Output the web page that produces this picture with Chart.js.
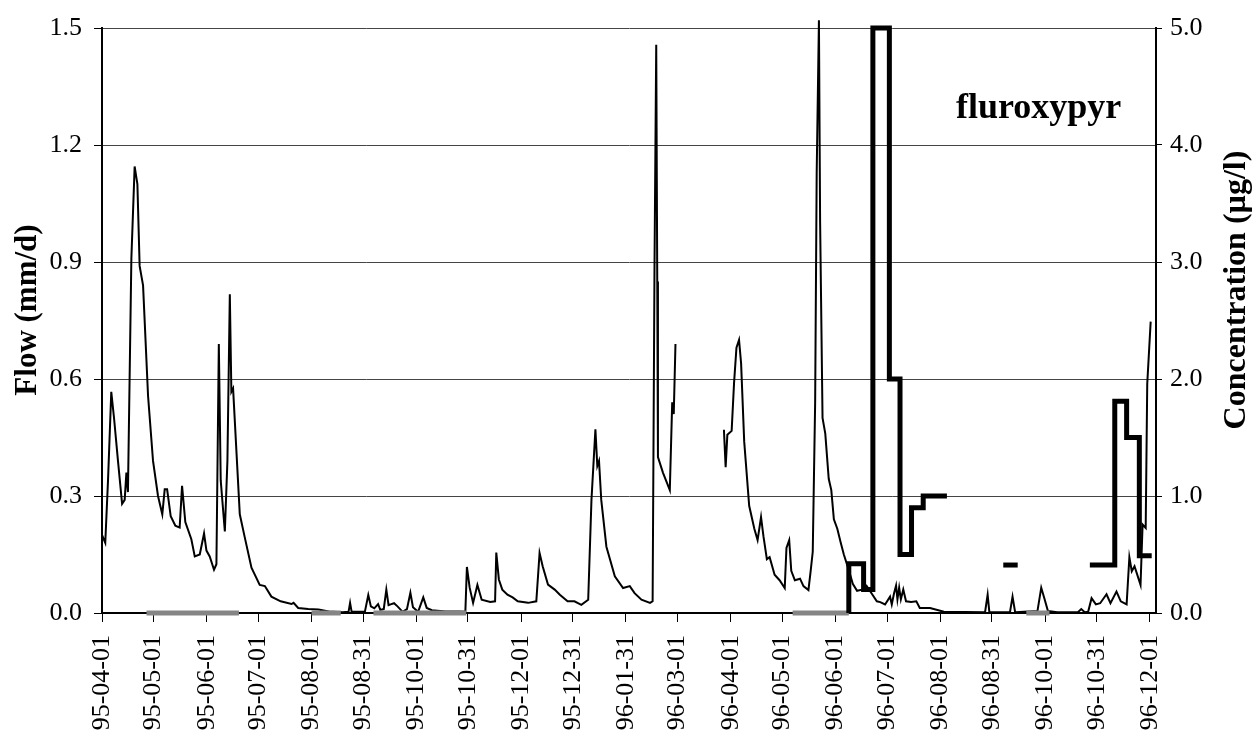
<!DOCTYPE html>
<html><head><meta charset="utf-8">
<script src="https://cdn.jsdelivr.net/npm/chart.js@4.4.0/dist/chart.umd.min.js"></script>
<style>html,body{margin:0;padding:0;background:#fff;}#wrap{width:1254px;height:735px;}</style>
</head><body><div id="wrap"><canvas id="c" width="1254" height="735"></canvas></div>
<script>
// x values are days since 95-04-01
const tickDays = [0,30,61,91,122,152,183,213,244,274,305,335,366,396,427,457,488,518,549,579,610];
const tickLabels = ['95-04-01','95-05-01','95-06-01','95-07-01','95-08-01','95-08-31','95-10-01','95-10-31','95-12-01','95-12-31','96-01-31','96-03-01','96-04-01','96-05-01','96-06-01','96-07-01','96-08-01','96-08-31','96-10-01','96-10-31','96-12-01'];
const flowTicks = [0,0.3,0.6,0.9,1.2,1.5];
const concTicks = [0,1,2,3,4,5];

const flowDays = [0,1.9,3.5,5.4,7,9.3,11.7,13.2,14.2,15.1,17.1,19,20.6,21.9,23.9,26.8,29.7,32.6,35.1,36.5,37.9,40,42.7,45.2,46.6,48.5,52,54,56.9,59.4,60.8,62.7,65.2,66.6,68,69.1,71.5,73,74.4,75.3,76.3,78.3,80.2,83.1,87,91.8,94.8,98.6,104,110.3,111.5,114.2,120,126,132,140,143.5,144.4,145.3,153,155,156.5,158.5,160.7,162,164,165.5,166.8,168,170,172,175,177.5,179.5,181,184,187,189,192,200,208,211.5,212.4,214,216,218.5,221,226,228.8,229.5,231,233,236,239,242,248,252.8,254.7,256.5,259.6,263.5,266.5,271,275,279,283,284.9,287.2,288.3,289.3,290.6,293.6,298.5,303.3,307.2,310,314,319,320.5,321.6,322.6,323.2,323.6,326.5,330.5,331.9,332.8,333.8,348,362,363,364,366.5,367.9,369.3,370.8,372,373.8,376.7,379.7,381.6,383.6,385,387,388.6,391.5,394.4,397.4,398.4,400,401.2,403.3,406.3,408.3,411.2,412.5,413.7,415.1,416,417.3,418,419.4,421,423,424.5,426,428,430,431.8,434.7,437,439.5,442.4,445,448,451,453,455.8,458.7,459.7,461,462.2,463,464,465,466.4,468,471,474,476,482,490,514,515.5,516.5,528.5,530,531.5,544.5,546.7,548.5,550.6,556,568,570,572,574,576,578.5,581,584.7,587,590.5,593,596.4,598,599.4,601,604.5,605.7,607.5,608.4,610.4];
const flowValues = [0.20,0.18,0.34,0.567,0.50,0.39,0.28,0.29,0.36,0.31,0.91,1.145,1.10,0.89,0.84,0.557,0.39,0.30,0.253,0.317,0.317,0.248,0.224,0.219,0.326,0.233,0.189,0.145,0.15,0.204,0.16,0.145,0.111,0.125,0.69,0.34,0.209,0.39,0.817,0.567,0.576,0.41,0.253,0.194,0.116,0.072,0.069,0.042,0.03,0.023,0.026,0.013,0.01,0.009,0.004,0.002,0.003,0.026,0.003,0.003,0.046,0.017,0.012,0.023,0.008,0.01,0.06,0.02,0.022,0.025,0.017,0.003,0.01,0.052,0.015,0.003,0.04,0.013,0.007,0.004,0.004,0.003,0.118,0.065,0.026,0.072,0.034,0.028,0.03,0.155,0.086,0.06,0.047,0.04,0.03,0.026,0.03,0.154,0.12,0.073,0.06,0.047,0.03,0.03,0.021,0.034,0.29,0.471,0.377,0.39,0.29,0.17,0.094,0.064,0.069,0.051,0.034,0.026,0.03,0.895,1.457,0.85,0.40,0.36,0.315,0.54,0.51,0.69,null,0.47,0.374,0.457,0.467,0.59,0.68,0.70,0.64,0.44,0.275,0.216,0.187,0.246,0.197,0.138,0.143,0.098,0.084,0.064,0.167,0.187,0.108,0.084,0.088,0.069,0.059,0.108,0.157,0.54,1.13,1.52,1.0,0.50,0.46,0.344,0.315,0.24,0.216,0.18,0.15,0.11,0.075,0.057,0.06,0.07,0.05,0.03,0.028,0.022,0.042,0.022,0.05,0.07,0.035,0.065,0.035,0.06,0.03,0.028,0.03,0.013,0.013,0.003,0.002,0.047,0.002,0.002,0.042,0.002,0.005,0.065,0.038,0.005,0.002,0.002,0.01,0.002,0.003,0.038,0.022,0.025,0.048,0.025,0.055,0.03,0.022,0.143,0.107,0.12,0.072,0.227,0.218,0.588,0.747];

// step values hold from a point until the next one; null breaks the line
const concDays = [25.9,79.7,80,122,139,140,158,212,213,402,434.7,434.7,443.3,448.7,458.3,464.5,471.2,478,491.8,492,524.6,533,534,538,551.5,552,575,589.5,596.4,603.8,611];
const concValues = [0,0,null,0,0,null,0,0,null,0,0,0.42,0.2,5.0,2.0,0.5,0.9,1.0,1.0,null,0.41,0.41,null,0,0,null,0.41,1.81,1.5,0.49,0.49];

const SERIF = '"Liberation Serif", "Times New Roman", serif';

const textPlugin = {
  id: 'texts',
  afterDraw(chart) {
    const ctx = chart.ctx;
    ctx.save();
    ctx.fillStyle = '#000';
    ctx.font = 'bold 36px ' + SERIF;
    ctx.textAlign = 'left';
    ctx.textBaseline = 'alphabetic';
    ctx.fillText('fluroxypyr', 956, 118);
    ctx.textAlign = 'center';
    ctx.textBaseline = 'middle';
    ctx.font = 'bold 31px ' + SERIF;
    ctx.save(); ctx.translate(28, 310); ctx.rotate(-Math.PI/2); ctx.fillText('Flow (mm/d)', 0, 0); ctx.restore();
    ctx.font = 'bold 32px ' + SERIF;
    ctx.save(); ctx.translate(1237, 290); ctx.rotate(-Math.PI/2); ctx.fillText('Concentration (\u00b5g/l)', 0, 0); ctx.restore();
    ctx.restore();
  }
};

new Chart(document.getElementById('c'), {
  type: 'line',
  data: {
    datasets: [
      {
        label: 'Concentration',
        data: concDays.map((d, i) => ({x: d, y: concValues[i]})),
        yAxisID: 'y2',
        stepped: 'before',
        borderColor: '#000',
        borderWidth: 5,
        pointRadius: 0,
        spanGaps: false,
        clip: false,
        segment: {
          borderColor: c => (c.p0.parsed.y === 0 && c.p1.parsed.y === 0) ? '#858585' : '#000'
        }
      },
      {
        label: 'Flow',
        data: flowDays.map((d, i) => ({x: d, y: flowValues[i]})),
        yAxisID: 'y',
        borderColor: '#000',
        borderWidth: 2,
        pointRadius: 0,
        tension: 0,
        spanGaps: false,
        clip: false
      }
    ]
  },
  options: {
    responsive: false,
    animation: false,
    devicePixelRatio: 1,
    layout: {padding: {top: 28, left: 0, right: 0, bottom: 0}},
    plugins: {legend: {display: false}, tooltip: {enabled: false}, title: {display: false}},
    scales: {
      x: {
        type: 'linear', position: 'bottom', min: 0, max: 613.5,
        afterBuildTicks: s => { s.ticks = tickDays.map(v => ({value: v})); },
        afterFit: s => { s.height = 122; },
        ticks: {autoSkip: false, maxRotation: 90, minRotation: 90, padding: 13, color: '#000',
          font: {family: SERIF, size: 26},
          callback: (v, i) => tickLabels[i]},
        grid: {drawOnChartArea: false, drawTicks: true, tickLength: 9, color: '#000', lineWidth: 1},
        border: {color: '#000', width: 2}
      },
      y: {
        position: 'left', min: 0, max: 1.5,
        afterBuildTicks: s => { s.ticks = flowTicks.map(v => ({value: v})); },
        afterFit: s => { s.width = 102; },
        ticks: {padding: 12, color: '#000', font: {family: SERIF, size: 26}, callback: v => v.toFixed(1)},
        grid: {color: '#444', lineWidth: 1, drawTicks: true, tickLength: 8, tickColor: '#000'},
        border: {color: '#000', width: 2}
      },
      y2: {
        position: 'right', min: 0, max: 5,
        afterBuildTicks: s => { s.ticks = concTicks.map(v => ({value: v})); },
        afterFit: s => { s.width = 98; },
        ticks: {padding: 8, color: '#000', font: {family: SERIF, size: 26}, callback: v => v.toFixed(1)},
        grid: {drawOnChartArea: false, drawTicks: true, tickLength: 6, color: '#000'},
        border: {color: '#000', width: 2}
      }
    }
  },
  plugins: [textPlugin]
});
</script>
</body></html>
